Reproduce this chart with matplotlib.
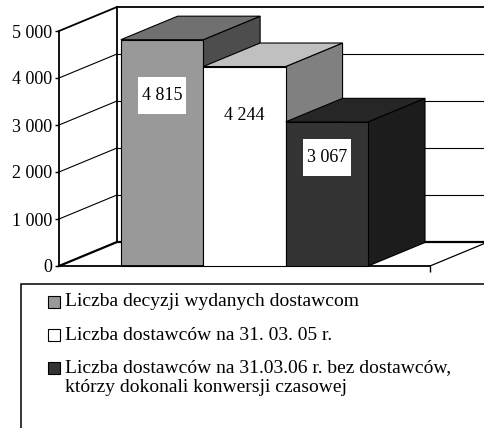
import matplotlib
matplotlib.use("Agg")
import matplotlib.pyplot as plt
from matplotlib.patches import Rectangle
from matplotlib.ticker import FuncFormatter

series_names = [
    "Liczba decyzji wydanych dostawcom",
    "Liczba dostawców na 31. 03. 05 r.",
    "Liczba dostawców na 31.03.06 r. bez dostawców,\nktórzy dokonali konwersji czasowej",
]
values = [4815, 4244, 3067]
value_labels = ["4 815", "4 244", "3 067"]
y_ticks = [0, 1000, 2000, 3000, 4000, 5000]

front_colors = ["#999999", "#ffffff", "#333333"]
top_colors = ["#707070", "#c0c0c0", "#262626"]
side_colors = ["#4d4d4d", "#808080", "#1c1c1c"]

plt.rcParams["font.family"] = ["Liberation Serif", "DejaVu Serif"]

W, H = 484, 428
fig = plt.figure(figsize=(W / 100, H / 100), dpi=100)
fig.patch.set_facecolor("white")

def fx(px):
    return px / W

def fy(py):
    return 1 - py / H

ax = fig.add_axes([fx(59), fy(266), (430 - 59) / W, (266 - 31) / H])
ax.set_xlim(0, 1)
ax.set_ylim(0, 5000)
ax.set_facecolor("none")

PX_X = 1 / 371.0      # x units per pixel
PX_Y = 1000 / 47.0    # y units per pixel
DX = 58 * PX_X
DY = 24 * PX_Y

# walls and gridlines
grid_kw = dict(color="black", lw=0.8, clip_on=False, zorder=1)
for v in y_ticks[1:-1]:
    ax.plot([0, DX], [v, v + DY], **grid_kw)
    ax.plot([DX, 1 + DX + 0.05], [v + DY, v + DY], **grid_kw)
thick_kw = dict(color="black", lw=1.3, clip_on=False, zorder=1)
ax.plot([0, DX], [5000, 5000 + DY], **thick_kw)
ax.plot([DX, 1 + DX + 0.05], [5000 + DY, 5000 + DY], **thick_kw)
ax.plot([DX, DX], [DY, 5000 + DY], **thick_kw)
ax.plot([0, DX], [0, DY], color="black", lw=1.6, clip_on=False, zorder=1)
ax.plot([DX, 1 + DX + 0.05], [DY, DY], color="black", lw=1.6, clip_on=False, zorder=1)
ax.plot([1, 1 + DX], [0, DY], color="black", lw=0.9, clip_on=False, zorder=1)

# bars
bw = 0.2222
bdx = DX * 0.98
bdy = DY * 0.98
for i, v in enumerate(values):
    x0 = 0.5 + (i - 1) * bw - bw / 2
    z = 2 + i
    side = [(x0 + bw, 0), (x0 + bw + bdx, bdy), (x0 + bw + bdx, v + bdy), (x0 + bw, v)]
    top = [(x0, v), (x0 + bw, v), (x0 + bw + bdx, v + bdy), (x0 + bdx, v + bdy)]
    ax.fill(*zip(*side), facecolor=side_colors[i], edgecolor="black", lw=0.8,
            clip_on=False, zorder=z)
    ax.fill(*zip(*top), facecolor=top_colors[i], edgecolor="black", lw=0.8,
            clip_on=False, zorder=z)
    ax.bar(x0, v, width=bw, align="edge", color=front_colors[i], edgecolor="black",
           lw=0.8, clip_on=False, zorder=z)
    cx, cy = x0 + bw / 2, v * 0.755
    bwid, bhei = 48 * PX_X, 37 * PX_Y
    ax.add_patch(Rectangle((cx - bwid / 2, cy - bhei / 2), bwid, bhei,
                           facecolor="white", edgecolor="none", zorder=9))
    ax.text(cx, cy, value_labels[i], ha="center", va="center",
            fontsize=13, zorder=10)

# axes styling
for s in ["top", "right"]:
    ax.spines[s].set_visible(False)
ax.spines["left"].set_linewidth(1.3)
ax.spines["bottom"].set_linewidth(1.3)
ax.spines["left"].set_zorder(1.5)
ax.set_yticks(y_ticks)
ax.yaxis.set_major_formatter(FuncFormatter(lambda v, p: f"{int(v):,}".replace(",", " ")))
ax.tick_params(axis="y", length=3, width=1, pad=2, labelsize=13)
ax.set_xticks([1])
ax.set_xticklabels([""])
ax.tick_params(axis="x", length=4, width=1)

# legend (manual)
fig.patches.append(Rectangle((fx(21), fy(440)), fx(500) - fx(21), fy(284) - fy(440),
                             transform=fig.transFigure, facecolor="none",
                             edgecolor="black", lw=1.1, clip_on=False))
entry_y = [302, 335, 368]
for i, name in enumerate(series_names):
    cy = entry_y[i]
    fig.patches.append(Rectangle((fx(47.5), fy(cy + 6)), fx(12.5), 12.5 / H,
                                 transform=fig.transFigure, facecolor=front_colors[i],
                                 edgecolor="black", lw=0.8))
    lines = name.split("\n")
    for j, line in enumerate(lines):
        fig.text(fx(65), fy(cy + j * 20), line, ha="left", va="center",
                 fontsize=14)

fig.savefig("out.png", dpi=100, facecolor="white")
